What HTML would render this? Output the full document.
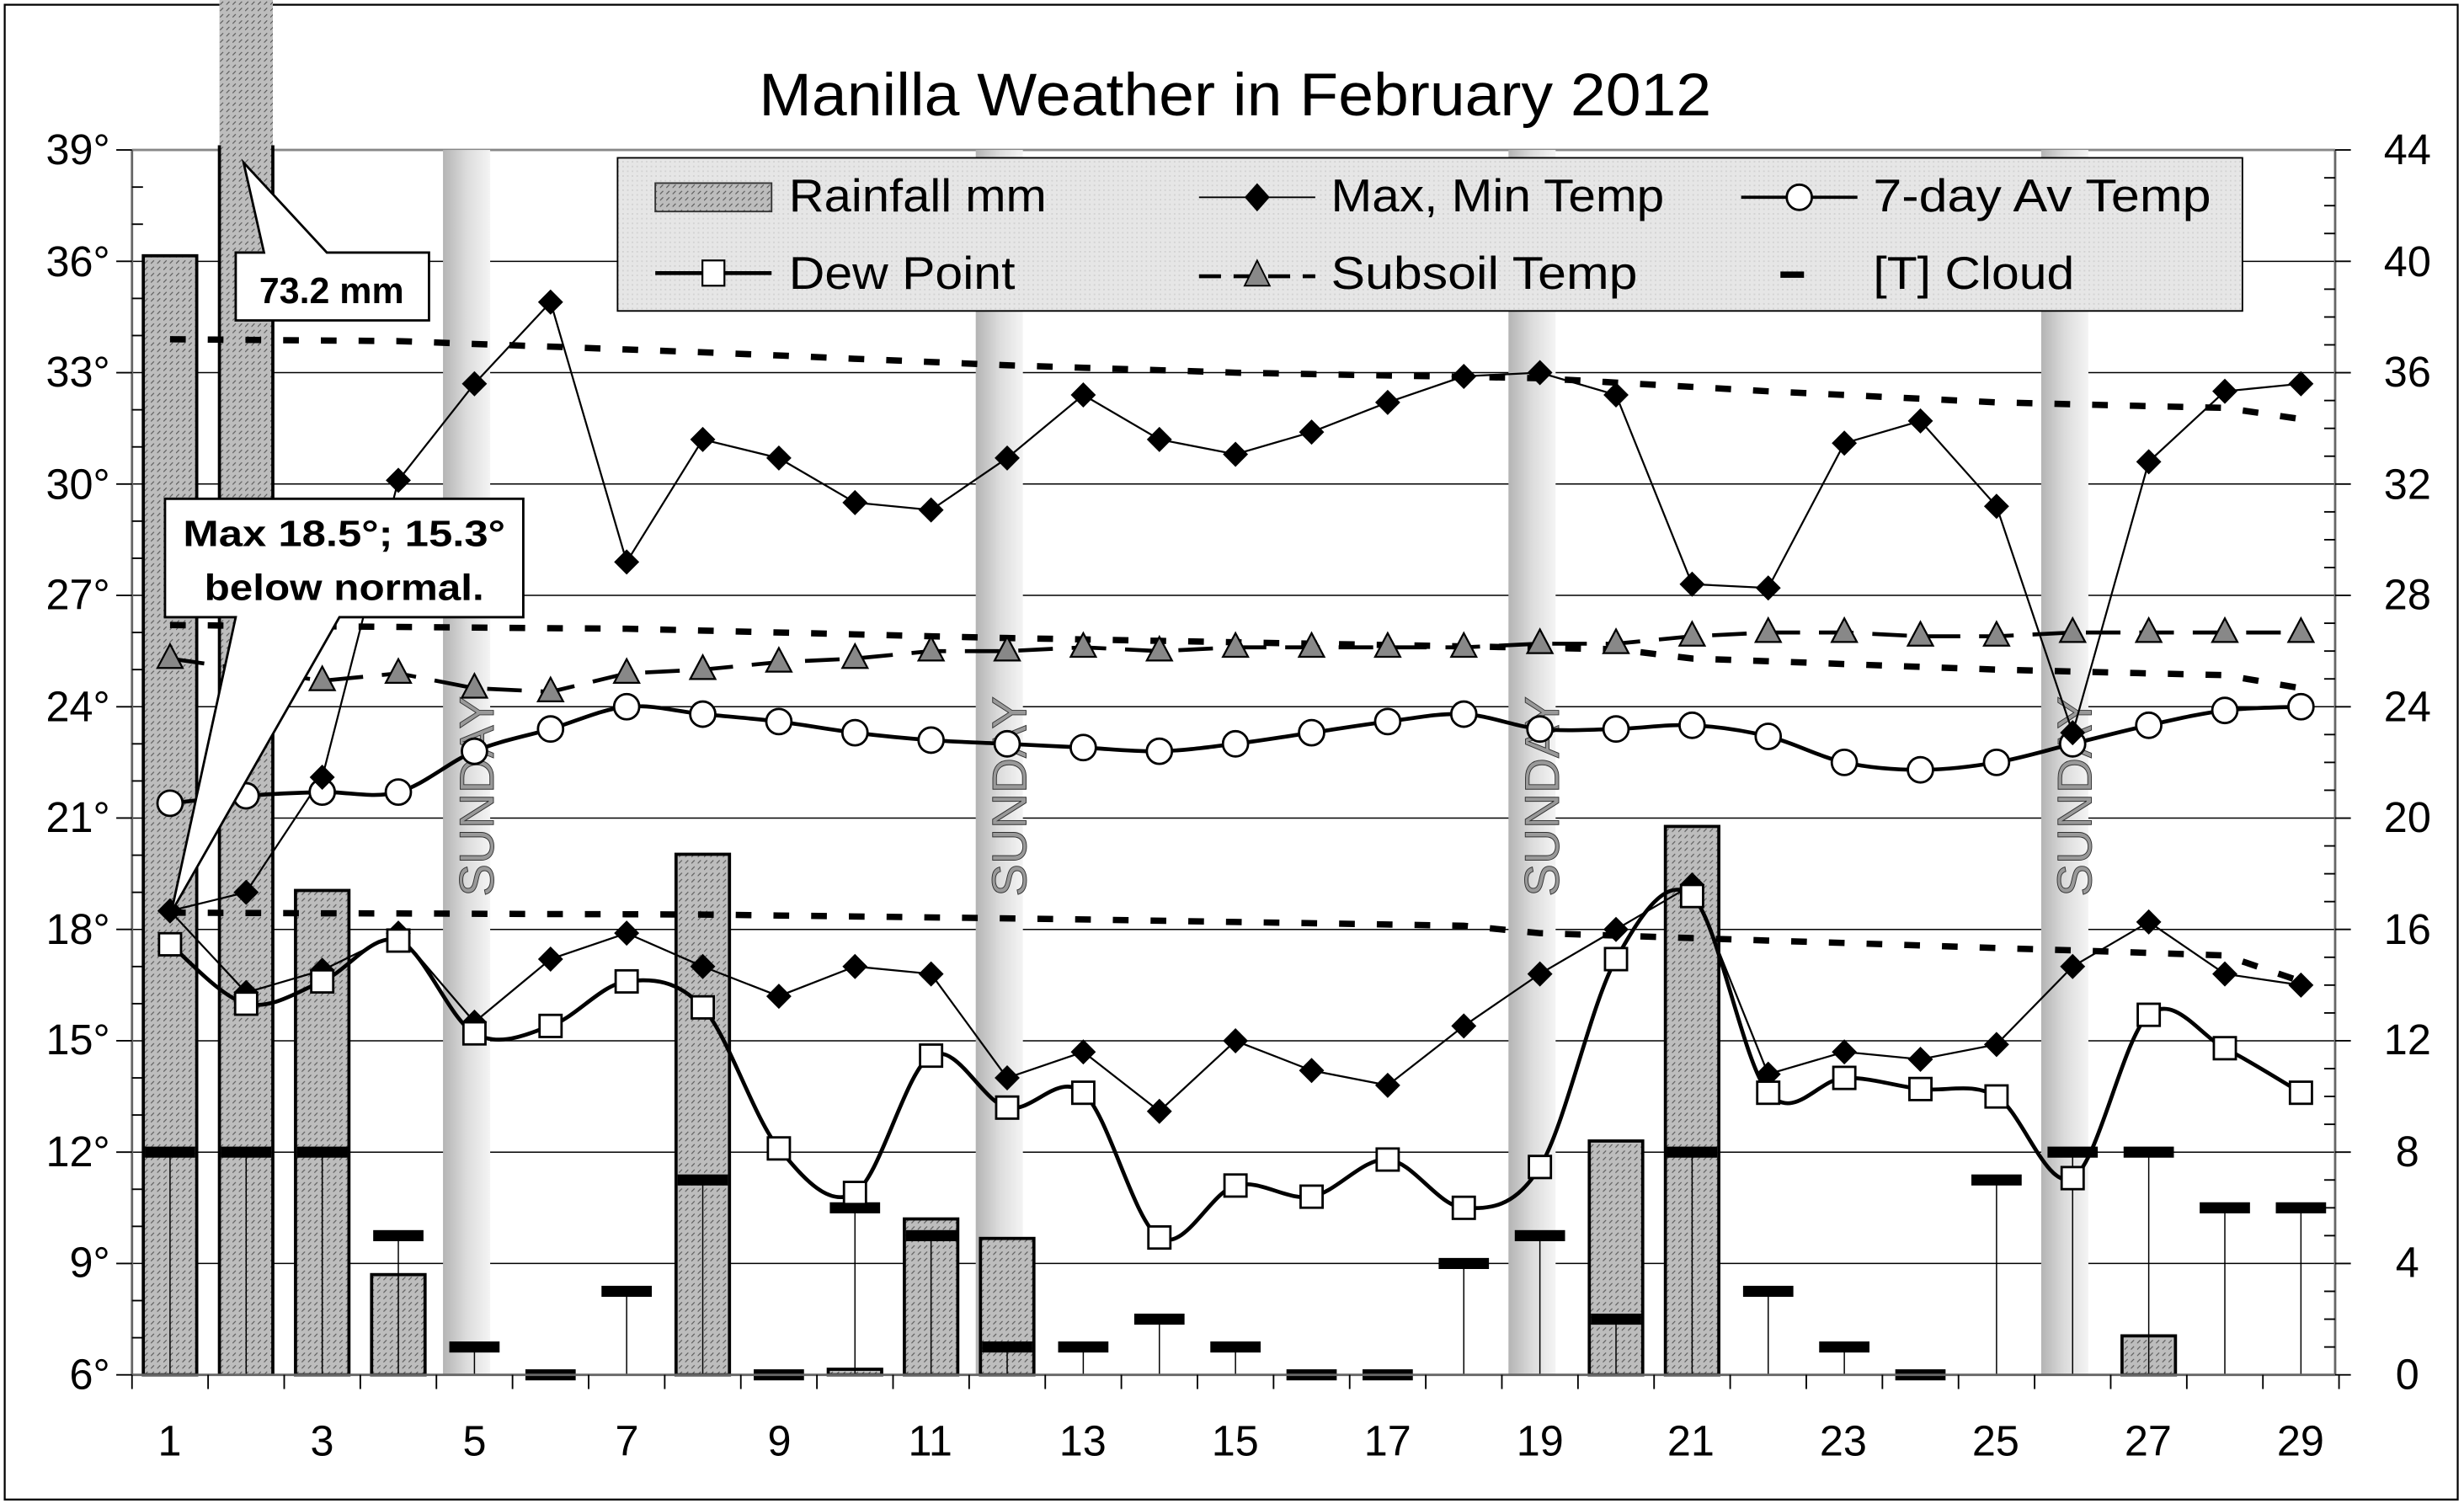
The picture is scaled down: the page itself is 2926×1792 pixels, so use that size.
<!DOCTYPE html>
<html><head><meta charset="utf-8"><style>
html,body{margin:0;padding:0;background:#fff;}
svg{display:block;}
text{font-family:"Liberation Sans",Arial,sans-serif;}
</style></head><body>
<svg id="s" width="2926" height="1792" viewBox="0 0 1568 956" preserveAspectRatio="none" xmlns="http://www.w3.org/2000/svg">
<defs>
<pattern id="hatch" width="4" height="4" patternUnits="userSpaceOnUse">
<rect width="4" height="4" fill="#bdbdbd"/>
<path d="M0 3 L2 1" stroke="#555" stroke-width="0.6"/>
</pattern>
<linearGradient id="sun" x1="0" x2="1" y1="0" y2="0">
<stop offset="0" stop-color="#b4b4b4"/><stop offset="0.5" stop-color="#dcdcdc"/><stop offset="1" stop-color="#f4f4f4"/>
</linearGradient>
<pattern id="leg" width="3" height="3" patternUnits="userSpaceOnUse"><rect width="3" height="3" fill="#e6e6e6"/><rect width="1" height="1" fill="#d2d2d2"/></pattern>
</defs>
<rect x="0" y="0" width="1568" height="956" fill="#fff"/>
<rect x="3" y="3" width="1561" height="947" fill="none" stroke="#000" stroke-width="1.2"/>
<g id="grid"></g>
<g id="sunday"></g>
<g fill="#999" stroke="#333" stroke-width="0.5" font-size="31">
<text transform="translate(314,568) rotate(-90)">SUNDAY</text>
<text transform="translate(653,568) rotate(-90)">SUNDAY</text>
<text transform="translate(992,568) rotate(-90)">SUNDAY</text>
<text transform="translate(1331,568) rotate(-90)">SUNDAY</text>
</g>
<g id="bars"></g>
<g id="series"></g>
<g id="axes"></g>
<text x="786" y="73" font-size="38" text-anchor="middle" textLength="606" lengthAdjust="spacingAndGlyphs">Manilla Weather in February 2012</text>
<g font-size="27" text-anchor="end">
<text x="70" y="104">39°</text><text x="70" y="175">36°</text><text x="70" y="245">33°</text><text x="70" y="316">30°</text><text x="70" y="386">27°</text><text x="70" y="457">24°</text><text x="70" y="527">21°</text><text x="70" y="598">18°</text><text x="70" y="668">15°</text><text x="70" y="739">12°</text><text x="70" y="809">9°</text><text x="70" y="880">6°</text>
</g>
<g font-size="27" text-anchor="middle">
<text x="1532" y="104">44</text><text x="1532" y="175">40</text><text x="1532" y="245">36</text><text x="1532" y="316">32</text><text x="1532" y="386">28</text><text x="1532" y="457">24</text><text x="1532" y="527">20</text><text x="1532" y="598">16</text><text x="1532" y="668">12</text><text x="1532" y="739">8</text><text x="1532" y="809">4</text><text x="1532" y="880">0</text>
</g>
<g font-size="27" text-anchor="middle">
<text x="108" y="922">1</text><text x="205" y="922">3</text><text x="302" y="922">5</text><text x="399" y="922">7</text><text x="496" y="922">9</text><text x="592" y="922">11</text><text x="689" y="922">13</text><text x="786" y="922">15</text><text x="883" y="922">17</text><text x="980" y="922">19</text><text x="1076" y="922">21</text><text x="1173" y="922">23</text><text x="1270" y="922">25</text><text x="1367" y="922">27</text><text x="1464" y="922">29</text>
</g>
<rect x="393" y="100" width="1034" height="97" fill="url(#leg)" stroke="#000" stroke-width="1"/>
<rect x="417" y="116" width="74" height="18" fill="url(#hatch)" stroke="#333" stroke-width="1"/>
<g font-size="29">
<text x="502" y="134" textLength="164" lengthAdjust="spacingAndGlyphs">Rainfall mm</text>
<text x="847" y="134" textLength="212" lengthAdjust="spacingAndGlyphs">Max, Min Temp</text>
<text x="1192" y="134" textLength="215" lengthAdjust="spacingAndGlyphs">7-day Av Temp</text>
<text x="502" y="183" textLength="144" lengthAdjust="spacingAndGlyphs">Dew Point</text>
<text x="847" y="183" textLength="195" lengthAdjust="spacingAndGlyphs">Subsoil Temp</text>
<text x="1192" y="183" textLength="128" lengthAdjust="spacingAndGlyphs">[T] Cloud</text>
</g>
<line x1="763" y1="125" x2="837" y2="125" stroke="#000" stroke-width="1"/>
<path d="M800 116 L808 125 L800 134 L792 125Z" fill="#000"/>
<line x1="1108" y1="125" x2="1182" y2="125" stroke="#000" stroke-width="2"/>
<circle cx="1145" cy="125" r="8" fill="#fff" stroke="#000" stroke-width="1.5"/>
<line x1="417" y1="173" x2="491" y2="173" stroke="#000" stroke-width="2.5"/>
<rect x="447" y="165" width="14" height="16" fill="#fff" stroke="#000" stroke-width="1.2"/>
<line x1="763" y1="175" x2="837" y2="175" stroke="#000" stroke-width="2.5" stroke-dasharray="14 8"/>
<path d="M800 165 L808 181 L792 181Z" fill="#888" stroke="#000" stroke-width="1"/>
<rect x="1133" y="172" width="15" height="4" fill="#000"/>
<path d="M150 160 L168 160 L155 103 L208 160 L273 160 L273 203 L150 203 Z" fill="#fff" stroke="#000" stroke-width="1.5"/>
<text x="211" y="192" font-size="23" font-weight="bold" text-anchor="middle">73.2 mm</text>
<path d="M105 316 L333 316 L333 391 L216 391 L109 578 L150 391 L105 391 Z" fill="#fff" stroke="#000" stroke-width="1.5"/>
<text x="219" y="346" font-size="23" font-weight="bold" text-anchor="middle" textLength="205" lengthAdjust="spacingAndGlyphs">Max 18.5°;  15.3°</text>
<text x="219" y="380" font-size="23" font-weight="bold" text-anchor="middle" textLength="178" lengthAdjust="spacingAndGlyphs">below normal.</text>
</svg>
<script>
(function(){
var NS="http://www.w3.org/2000/svg";
function X(d){return 108.2+(d-1)*48.43;}
function Y(t){return 871-(t-6)*23.515;}
function R(v){return 871-v*17.636;}
function el(p,n,a){var e=document.createElementNS(NS,n);for(var k in a)e.setAttribute(k,a[k]);document.getElementById(p).appendChild(e);return e;}
for(var t=9;t<=39;t+=3){el("grid","line",{x1:84,x2:1486,y1:Y(t),y2:Y(t),stroke:t==39?"#888":"#000","stroke-width":t==39?1.5:0.8});}
[5,12,19,26].forEach(function(d){el("sunday","rect",{x:X(d)-20,y:95,width:30,height:776,fill:"url(#sun)"});});
var rain={1:40.2,2:100,3:17.4,4:3.6,8:18.7,10:0.2,11:5.6,12:4.9,20:8.4,21:19.7,27:1.4};
for(var d in rain){var v=rain[d];var top=d==2?0:R(v);
 el("bars","rect",{x:X(+d)-17,y:top,width:34,height:871-top,fill:"url(#hatch)",stroke:"#000","stroke-width":d==2?0:2});
 if(d==2){el("bars","line",{x1:X(2)-17,x2:X(2)-17,y1:92,y2:871,stroke:"#000","stroke-width":2});el("bars","line",{x1:X(2)+17,x2:X(2)+17,y1:92,y2:871,stroke:"#000","stroke-width":2});}
}
var cloud=[8,8,8,5,1,0,3,7,0,6,5,1,1,2,1,0,0,4,5,2,8,3,1,0,7,8,8,6,6];
cloud.forEach(function(c,i){var d=i+1;var y=R(c);
 if(c>0)el("bars","line",{x1:X(d),x2:X(d),y1:y,y2:871,stroke:"#000","stroke-width":0.8});
 el("bars","rect",{x:X(d)-16,y:y-3.5,width:32,height:7,fill:"#000"});});
function line(id,pts,attrs){var d=pts.map(function(p,i){return(i?"L":"M")+p[0].toFixed(1)+" "+p[1].toFixed(1);}).join(" ");attrs.d=d;attrs.fill="none";return el(id,"path",attrs);}
function interp(keys){var p=[];for(var d=1;d<=29;d++){var v;for(var k=0;k<keys.length-1;k++){if(d>=keys[k][0]&&d<=keys[k+1][0]){var f=(d-keys[k][0])/(keys[k+1][0]-keys[k][0]);v=keys[k][1]+(keys[k+1][1]-keys[k][1])*f;break;}}p.push([X(d),Y(v)]);}return p;}
var ds={stroke:"#000","stroke-width":4,"stroke-dasharray":"10 14"};
line("series",interp([[1,33.9],[4,33.85],[8,33.55],[12,33.2],[15,33.0],[19,32.85],[22,32.5],[25,32.2],[28,32.05],[29,31.75]]),ds);
line("series",interp([[1,26.2],[7,26.1],[12,25.85],[20,25.55],[21,25.3],[25,25.0],[28,24.85],[29,24.5]]),ds);
line("series",interp([[1,18.45],[8,18.4],[12,18.3],[15,18.2],[18,18.1],[19,17.9],[22,17.7],[25,17.5],[28,17.3],[29,16.6]]),ds);
var sub=[25.3,25.0,24.7,24.9,24.5,24.4,24.9,25.0,25.2,25.3,25.5,25.5,25.6,25.5,25.6,25.6,25.6,25.6,25.7,25.7,25.9,26.0,26.0,25.9,25.9,26.0,26.0,26.0,26.0];
line("series",sub.map(function(t,i){return[X(i+1),Y(t)];}),{stroke:"#000","stroke-width":2.5,"stroke-dasharray":"22 12"});
function smooth(pts){var s="M"+pts[0][0]+" "+pts[0][1];for(var i=0;i<pts.length-1;i++){var p0=pts[i-1]||pts[i],p1=pts[i],p2=pts[i+1],p3=pts[i+2]||p2;
 s+=" C"+(p1[0]+(p2[0]-p0[0])/6)+" "+(p1[1]+(p2[1]-p0[1])/6)+" "+(p2[0]-(p3[0]-p1[0])/6)+" "+(p2[1]-(p3[1]-p1[1])/6)+" "+p2[0]+" "+p2[1];}return s;}
var av=[21.4,21.6,21.7,21.7,22.8,23.4,24.0,23.8,23.6,23.3,23.1,23.0,22.9,22.8,23.0,23.3,23.6,23.8,23.4,23.4,23.5,23.2,22.5,22.3,22.5,23.0,23.5,23.9,24.0];
var avp=av.map(function(t,i){return[X(i+1),Y(t)];});
el("series","path",{d:smooth(avp),fill:"none",stroke:"#000","stroke-width":2.5});
var dew=[17.6,16.0,16.6,17.7,15.2,15.4,16.6,15.9,12.1,10.9,14.6,13.2,13.6,9.7,11.1,10.8,11.8,10.5,11.6,17.2,18.9,13.6,14.0,13.7,13.5,11.3,15.7,14.8,13.6];
var dp=dew.map(function(t,i){return[X(i+1),Y(t)];});
el("series","path",{d:smooth(dp),fill:"none",stroke:"#000","stroke-width":2.5});
var mx=[18.5,19.0,22.1,30.1,32.7,34.9,27.9,31.2,30.7,29.5,29.3,30.7,32.4,31.2,30.8,31.4,32.2,32.9,33.0,32.4,27.3,27.2,31.1,31.7,29.4,23.3,30.6,32.5,32.7];
var mn=[18.5,16.3,16.9,17.9,15.5,17.2,17.9,17.0,16.2,17.0,16.8,14.0,14.7,13.1,15.0,14.2,13.8,15.4,16.8,18.0,19.2,14.1,14.7,14.5,14.9,17.0,18.2,16.8,16.5];
[mx,mn].forEach(function(arr){line("series",arr.map(function(t,i){return[X(i+1),Y(t)];}),{stroke:"#000","stroke-width":1.2});});
sub.forEach(function(t,i){if(i==1)return;var x=X(i+1),y=Y(t);el("series","path",{d:"M"+x+" "+(y-9)+" L"+(x+8)+" "+(y+6)+" L"+(x-8)+" "+(y+6)+"Z",fill:"#888",stroke:"#000","stroke-width":1.2});});
avp.forEach(function(p){el("series","circle",{cx:p[0],cy:p[1],r:8,fill:"#fff",stroke:"#000","stroke-width":1.5});});
[mx,mn].forEach(function(arr){arr.forEach(function(t,i){var x=X(i+1),y=Y(t);el("series","path",{d:"M"+x+" "+(y-8)+" L"+(x+8)+" "+y+" L"+x+" "+(y+8)+" L"+(x-8)+" "+y+"Z",fill:"#000"});});});
dp.forEach(function(p){el("series","rect",{x:p[0]-7,y:p[1]-7,width:14,height:14,fill:"#fff",stroke:"#000","stroke-width":1.5});});
el("axes","line",{x1:84,x2:84,y1:95,y2:871,stroke:"#666","stroke-width":1.5});
el("axes","line",{x1:1486,x2:1486,y1:95,y2:871,stroke:"#666","stroke-width":1.5});
el("axes","line",{x1:84,x2:1486,y1:871,y2:871,stroke:"#666","stroke-width":1.5});
for(var t=6;t<=39;t++){var y=Y(t);if((t%3)==0)el("axes","line",{x1:74,x2:84,y1:y,y2:y,stroke:"#000","stroke-width":1});else el("axes","line",{x1:84,x2:91,y1:y,y2:y,stroke:"#000","stroke-width":1});}
for(var v=0;v<=44;v++){var y=R(v);if(v%4==0)el("axes","line",{x1:1486,x2:1496,y1:y,y2:y,stroke:"#000","stroke-width":1});else el("axes","line",{x1:1479,x2:1486,y1:y,y2:y,stroke:"#000","stroke-width":1});}
for(var k=0;k<=29;k++){var x=84+k*48.43;el("axes","line",{x1:x,x2:x,y1:871,y2:880,stroke:"#000","stroke-width":1});}
})();
</script>
</body></html>
